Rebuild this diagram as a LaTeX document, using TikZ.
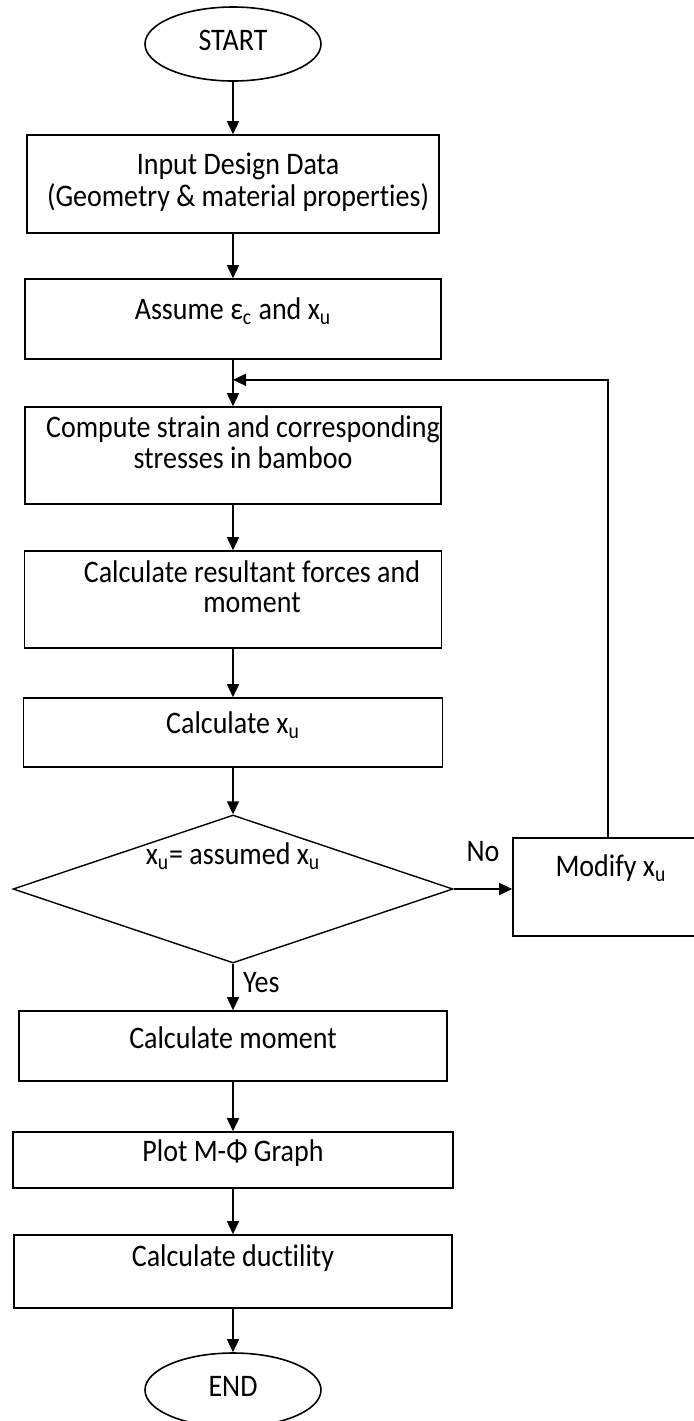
\documentclass[tikz,border=0pt]{standalone}
\usepackage{fontspec}
\setmainfont{Carlito}[Ligatures=NoCommon]
\usetikzlibrary{shapes.geometric,arrows.meta}

% text inside a box: shift right by #1, lift by #2 (letters a bit tall, as in the source)
\newcommand{\boxtxt}[3]{\raisebox{#2}[\height][\depth]{\hspace*{#1}\hspace*{#1}\scalebox{1}[1.12]{\begin{tabular}{@{}c@{}}#3\end{tabular}}}}
\newcommand{\xu}{x\textsubscript{u}}

\begin{document}
\begin{tikzpicture}[x=0.5pt,y=-0.5pt,
    font=\fontsize{14}{13.4}\selectfont,
    line width=0.8pt,
    proc/.style={draw,rectangle,inner sep=0pt},
    term/.style={draw,ellipse,minimum width=88pt,minimum height=37pt,inner sep=0pt},
    decide/.style={draw,diamond,aspect=3,minimum width=220pt,minimum height=74pt,inner sep=0pt,line width=0.7pt},
    arr/.style={-{Triangle[length=6.5pt,width=6pt]}}]
    \useasboundingbox (0,0) rectangle (694,1421);

    \node[term] (start) at (233,44) {\boxtxt{0pt}{0pt}{START}};
    \node[proc,minimum width=206pt,minimum height=49pt] (input) at (233,184)
        {\boxtxt{2.5pt}{0pt}{Input Design Data\\(Geometry \& material properties)}};
    \node[proc,minimum width=208pt,minimum height=40pt] (assume) at (233,319)
        {\boxtxt{0pt}{3pt}{Assume ε\textsubscript{c} and \xu}};
    \node[proc,minimum width=208pt,minimum height=48.5pt] (compute) at (233,455.5)
        {\boxtxt{5pt}{4.5pt}{Compute strain and corresponding\\stresses in bamboo}};
    \node[proc,minimum width=208.5pt,minimum height=48.5pt] (result) at (233,599.5)
        {\boxtxt{9.5pt}{4pt}{Calculate resultant forces and\\moment}};
    \node[proc,minimum width=209.5pt,minimum height=34.5pt] (calcx) at (233,732.5)
        {\boxtxt{0pt}{2.5pt}{Calculate \xu}};
    \node[decide] (check) at (233,889) {\boxtxt{0pt}{15.5pt}{\xu= assumed \xu}};
    \node[proc,minimum width=95pt,minimum height=49pt] (modify) at (608,887)
        {\boxtxt{1.5pt}{8.5pt}{Modify \xu}};
    \node[proc,minimum width=214pt,minimum height=35pt] (moment) at (233,1046)
        {\boxtxt{0pt}{2pt}{Calculate moment}};
    \node[proc,minimum width=220pt,minimum height=28pt] (plot) at (233,1160)
        {\boxtxt{0pt}{2.5pt}{Plot M-Φ Graph}};
    \node[proc,minimum width=219pt,minimum height=36.5pt] (duct) at (233,1271.5)
        {\boxtxt{0pt}{5.5pt}{Calculate ductility}};
    \node[term] (end) at (233,1390) {\boxtxt{0pt}{0pt}{END}};

    % main flow
    \draw[arr] (start) -- (input);
    \draw[arr] (input) -- (assume);
    \draw[arr] (assume) -- (compute);
    \draw[arr] (compute) -- (result);
    \draw[arr] (result) -- (calcx);
    \draw[arr] (calcx) -- (check);
    \draw[arr] (check) -- node[right=1.3pt]{\boxtxt{0pt}{0pt}{Yes}} (moment);
    \draw[arr] (moment) -- (plot);
    \draw[arr] (plot) -- (duct);
    \draw[arr] (duct) -- (end);

    % loop back
    \draw[arr] (check.east) -- node[above=5.5pt]{\boxtxt{0pt}{0pt}{No}} (check.east -| modify.west);
    \coordinate (join) at ([yshift=-10pt]assume.south);
    \draw[arr] (modify.north) |- (join);
\end{tikzpicture}
\end{document}
